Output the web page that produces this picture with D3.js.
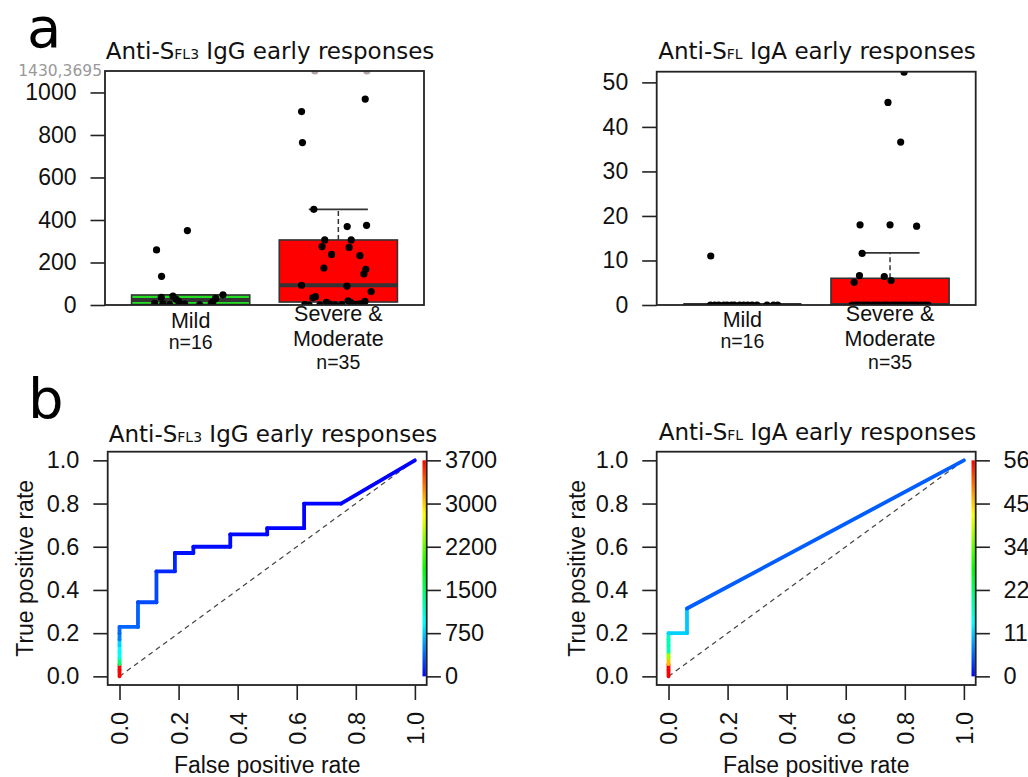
<!DOCTYPE html>
<html><head><meta charset="utf-8">
<script src="https://cdn.jsdelivr.net/npm/d3@7"></script>
<style>body{margin:0;background:#fff}svg{display:block}text{white-space:pre}</style>
</head><body>
<svg id="c" width="1028" height="777"></svg>
<script>
// ---------------- data ----------------
const groupLabels = [["Mild"], ["Severe &", "Moderate"]];
const groupN = ["n=16", "n=35"];

// Panel a, IgG
const igGTicks = [0, 200, 400, 600, 800, 1000];
const igGMax = 1101;
const igGOverLabel = "1430,3695";
const igGQ1 = [2, 14];
const igGMedian = [24, 93];
const igGQ3 = [47, 306];
const igGWhiskerLo = [0, 0];
const igGWhiskerHi = [48, 450];
const igGMildVals = [350, 259, 135, 48, 42, 36, 31, 27, 16, 15, 8, 8, 5, 4, 2, 1];
const igGMildX = [0.978, 0.769, 0.803, 1.219, 0.88, 0.801, 1.169, 0.903, 0.919, 1.151, 0.756, 1.14, 0.812, 0.96, 0.858, 1.061];
const igGSevVals = [3695, 1430, 969, 910, 764, 450, 375, 369, 306, 306, 275, 271, 238, 232, 174, 168, 146, 93, 89, 63, 39, 34, 20, 17, 13, 13, 6, 5, 4, 3, 2, 2, 1, 0, 0];
const igGSevX = [2.193, 1.841, 2.182, 1.751, 1.757, 1.834, 2.191, 2.06, 1.908, 2.087, 1.89, 2.073, 1.954, 2.146, 1.902, 2.186, 2.173, 1.751, 2.058, 2.222, 1.845, 1.827, 2.066, 2.18, 1.92, 2.083, 2.092, 2.146, 1.942, 2.123, 2.024, 1.773, 1.976, 1.802, 1.875];

// Panel a, IgA
const igATicks = [0, 10, 20, 30, 40, 50];
const igAMax = 52.4;
const igAQ1 = [0, 0];
const igAMedian = [0, 0];
const igAQ3 = [0, 6.0];
const igAWhiskerLo = [0, 0];
const igAWhiskerHi = [0, 11.7];
const igAMildVals = [11.0, 0, 0, 0, 0, 0, 0, 0, 0, 0, 0, 0, 0, 0, 0, 0];
const igAMildX = [0.786, 0.784, 0.813, 0.84, 0.874, 0.897, 0.926, 0.946, 0.982, 1.009, 1.036, 1.066, 1.099, 1.167, 1.211, 1.239];
const igASevVals = [52.3, 45.5, 36.6, 18.0, 18.0, 17.7, 11.6, 6.6, 6.4, 5.5, 5.1,
  0, 0, 0, 0, 0, 0, 0, 0, 0, 0, 0, 0, 0, 0, 0, 0, 0, 0, 0, 0, 0, 0, 0, 0];
const igASevX = [2.095, 1.986, 2.072, 1.797, 2.0, 2.18, 1.811, 1.793, 1.961, 2.007, 1.757,
  1.743, 1.770, 1.791, 1.818, 1.838, 1.858, 1.885, 1.905, 1.926, 1.953, 1.973, 1.986, 2.014, 2.034, 2.054, 2.074, 2.095, 2.115, 2.142, 2.162, 2.182, 2.209, 2.236, 2.257];

// Panel b, ROC IgG
const rocTicks = [0, 0.2, 0.4, 0.6, 0.8, 1.0];
const rocIgGFpr = [0, 0, 0, 0, 0, 0, 0, 0, 0, 0.0625, 0.0625, 0.125, 0.125, 0.1875, 0.1875, 0.25, 0.25, 0.375, 0.375, 0.5, 0.5, 0.625, 0.625, 0.75, 1];
const rocIgGTpr = [0, 0.029, 0.057, 0.086, 0.114, 0.143, 0.171, 0.2, 0.229, 0.229, 0.343, 0.343, 0.486, 0.486, 0.571, 0.571, 0.6, 0.6, 0.657, 0.657, 0.686, 0.686, 0.8, 0.8, 1];
const rocIgGCut = [3695, 3695, 1430, 969, 910, 764, 450, 375, 369, 350, 271, 259, 146, 135, 63, 48, 39, 36, 20, 15, 13, 5, 3, 1, 0];
const rocIgGCutMax = 3695;
const rocIgGCutLabels = ["0", "750", "1500", "2200", "3000", "3700"];

// Panel b, ROC IgA
const rocIgAFpr = [0, 0, 0, 0, 0, 0, 0, 0, 0.0625, 0.0625, 1];
const rocIgATpr = [0, 0.029, 0.057, 0.086, 0.114, 0.143, 0.171, 0.2, 0.2, 0.314, 1];
const rocIgACut = [56, 56, 45.5, 36.6, 18, 18, 17.7, 11.6, 11.0, 5.1, 0];
const rocIgACutMax = 56;
const rocIgACutLabels = ["0", "11", "22", "34", "45", "56"];

// ---------------- drawing ----------------
const svg = d3.select("#c");
svg.append("rect").attr("width", 1028).attr("height", 777).attr("fill", "#fff");
const defs = svg.append("defs");
const AX = "Liberation Sans, Arial, sans-serif";
const TT = "DejaVu Sans, sans-serif";
const INK = "#222";

function styleAxis(ax, fs) {
  ax.select(".domain").remove();
  ax.selectAll("line").attr("stroke", INK).attr("stroke-width", 1.6);
  ax.selectAll("text").attr("font-family", AX).attr("font-size", fs).attr("fill", "#111");
}

function title(cx, by, sub, post) {
  const t = svg.append("text").attr("x", cx).attr("y", by).attr("text-anchor", "middle")
    .attr("font-family", TT).attr("font-size", 23).attr("fill", "#111");
  t.append("tspan").text("Anti-S");
  t.append("tspan").attr("font-size", 14).text(sub);
  t.append("tspan").text(post);
}

function frame(L, R, T, B) {
  svg.append("rect").attr("x", L).attr("y", T).attr("width", R - L).attr("height", B - T)
    .attr("fill", "none").attr("stroke", INK).attr("stroke-width", 1.8);
}

function boxPanel(o) {
  const x = d3.scaleLinear().domain([0.42, 2.58]).range([o.L, o.R]);
  const y = d3.scaleLinear().domain([0, o.ymax]).range([o.B, o.T]);
  const id = "clip" + o.id;
  defs.append("clipPath").attr("id", id).append("rect")
    .attr("x", o.L).attr("y", o.T).attr("width", o.R - o.L).attr("height", o.B - o.T);

  const ax = svg.append("g").attr("transform", `translate(${o.L},0)`)
    .call(d3.axisLeft(y).tickValues(o.ticks).tickSize(14.5).tickPadding(14).tickFormat(d3.format("d")));
  styleAxis(ax, 23);

  const pg = svg.append("g").attr("clip-path", `url(#${id})`);
  const hw = 0.4, cw = 0.2;
  o.q1.forEach((_, i) => {
    const c = i + 1;
    pg.append("line").attr("x1", x(c)).attr("x2", x(c)).attr("y1", y(o.q3[i])).attr("y2", y(o.hi[i]))
      .attr("stroke", "#333").attr("stroke-width", 1.5).attr("stroke-dasharray", "5,3");
    pg.append("line").attr("x1", x(c - cw)).attr("x2", x(c + cw)).attr("y1", y(o.hi[i])).attr("y2", y(o.hi[i]))
      .attr("stroke", "#333").attr("stroke-width", 1.6);
    pg.append("line").attr("x1", x(c)).attr("x2", x(c)).attr("y1", y(o.q1[i])).attr("y2", y(o.lo[i]))
      .attr("stroke", "#333").attr("stroke-width", 1.5).attr("stroke-dasharray", "5,3");
    pg.append("rect").attr("x", x(c - hw)).attr("width", x(c + hw) - x(c - hw))
      .attr("y", y(o.q3[i])).attr("height", Math.max(0, y(o.q1[i]) - y(o.q3[i])))
      .attr("fill", o.fill[i]).attr("stroke", "#333").attr("stroke-width", 1.6);
    pg.append("line").attr("x1", x(c - hw)).attr("x2", x(c + hw)).attr("y1", y(o.med[i])).attr("y2", y(o.med[i]))
      .attr("stroke", "#333").attr("stroke-width", 4);
  });

  o.vals.forEach((vals, gi) => {
    pg.selectAll(null).data(vals).enter().append("circle")
      .attr("cx", (d, k) => x(o.xs[gi][k]))
      .attr("cy", d => y(Math.min(d, o.ymax)))
      .attr("r", 3.6)
      .attr("fill", d => d > o.ymax ? "#b0a4a4" : "#000");
  });

  frame(o.L, o.R, o.T, o.B);

  // category labels
  groupLabels.forEach((lines, i) => {
    lines.forEach((ln, j) => {
      svg.append("text").attr("x", x(i + 1)).attr("y", o.labY[i][j]).attr("text-anchor", "middle")
        .attr("font-family", AX).attr("font-size", 21.5).attr("fill", "#111").text(ln);
    });
    svg.append("text").attr("x", x(i + 1)).attr("y", o.nY[i]).attr("text-anchor", "middle")
      .attr("font-family", AX).attr("font-size", 19.5).attr("fill", "#111").text(groupN[i]);
  });
  return { x, y };
}

function rocPanel(o) {
  const x = d3.scaleLinear().domain([-0.04, 1.04]).range([o.L, o.R]);
  const y = d3.scaleLinear().domain([-0.04, 1.04]).range([o.B, o.T]);

  const ay = svg.append("g").attr("transform", `translate(${o.L},0)`)
    .call(d3.axisLeft(y).tickValues(rocTicks).tickSize(14.4).tickPadding(14).tickFormat(d3.format(".1f")));
  styleAxis(ay, 23.5);

  const axg = svg.append("g").attr("transform", `translate(0,${o.B})`)
    .call(d3.axisBottom(x).tickValues(rocTicks).tickSize(15).tickFormat(d3.format(".1f")));
  styleAxis(axg, 23.5);
  axg.selectAll("text").attr("transform", "rotate(-90)").attr("x", -27).attr("y", 0)
    .attr("dy", "0.36em").attr("text-anchor", "end");

  // diagonal
  svg.append("line").attr("x1", x(0)).attr("y1", y(0)).attr("x2", x(1)).attr("y2", y(1))
    .attr("stroke", "#444").attr("stroke-width", 1.2).attr("stroke-dasharray", "5,4");

  // colored curve
  const hue = c => (1 - c / o.cutMax) * 240;
  const segs = d3.range(o.fpr.length - 1);
  svg.append("g").selectAll("line").data(segs).enter().append("line")
    .attr("x1", i => x(o.fpr[i])).attr("y1", i => y(o.tpr[i]))
    .attr("x2", i => x(o.fpr[i + 1])).attr("y2", i => y(o.tpr[i + 1]))
    .attr("stroke", i => d3.hsl(hue(o.cut[i]), 1, 0.5).formatHex())
    .attr("stroke-width", 3.8).attr("stroke-linecap", "round");

  // color key
  const gid = "grad" + o.id;
  const grad = defs.append("linearGradient").attr("id", gid)
    .attr("x1", 0).attr("y1", 1).attr("x2", 0).attr("y2", 0);
  d3.range(0, 1.0001, 0.05).forEach(t => {
    grad.append("stop").attr("offset", t).attr("stop-color", d3.hsl((1 - t) * 240, 1, 0.5).formatHex());
  });
  svg.append("rect").attr("x", o.R - 4.2).attr("width", 3.4).attr("y", y(1)).attr("height", y(0) - y(1))
    .attr("fill", `url(#${gid})`);

  const cs = d3.scaleLinear().domain([0, o.cutMax]).range([y(0), y(1)]);
  const ar = svg.append("g").attr("transform", `translate(${o.R},0)`)
    .call(d3.axisRight(cs).tickValues(d3.range(6).map(i => o.cutMax * i / 5)).tickSize(14.2)
      .tickPadding(o.rpad).tickFormat((d, i) => o.cutLabels[i]));
  styleAxis(ar, 23.5);

  frame(o.L, o.R, o.T, o.B);

  svg.append("text").attr("transform", `translate(${o.ylabX},${(y(0) + y(1)) / 2}) rotate(-90)`)
    .attr("text-anchor", "middle").attr("font-family", AX).attr("font-size", 23).attr("fill", "#111")
    .text("True positive rate");
  svg.append("text").attr("x", (x(0) + x(1)) / 2).attr("y", 773).attr("text-anchor", "middle")
    .attr("font-family", AX).attr("font-size", 23).attr("fill", "#111").text("False positive rate");
}

// panel letters
svg.append("text").attr("x", 27).attr("y", 47).attr("font-family", TT).attr("font-size", 56).attr("fill", "#000").text("a");
svg.append("text").attr("x", 28).attr("y", 418).attr("font-family", TT).attr("font-size", 56).attr("fill", "#000").text("b");

// a: IgG
title(270, 59, "FL3", " IgG early responses");
boxPanel({
  id: "aG", L: 105, R: 424, T: 71, B: 305, ymax: igGMax, ticks: igGTicks,
  q1: igGQ1, med: igGMedian, q3: igGQ3, lo: igGWhiskerLo, hi: igGWhiskerHi,
  vals: [igGMildVals, igGSevVals], xs: [igGMildX, igGSevX],
  fill: ["#22dd22", "#ff0000"],
  labY: [[328], [321, 345.5]], nY: [349, 368.5]
});
svg.append("text").attr("x", 102).attr("y", 76).attr("text-anchor", "end")
  .attr("font-family", TT).attr("font-size", 15.5).attr("fill", "#999").text(igGOverLabel);

// a: IgA
title(817, 58.5, "FL", " IgA early responses");
boxPanel({
  id: "aA", L: 656.7, R: 975.7, T: 71.7, B: 305, ymax: igAMax, ticks: igATicks,
  q1: igAQ1, med: igAMedian, q3: igAQ3, lo: igAWhiskerLo, hi: igAWhiskerHi,
  vals: [igAMildVals, igASevVals], xs: [igAMildX, igASevX],
  fill: ["#22dd22", "#ff0000"],
  labY: [[326.5], [321, 345.5]], nY: [348, 368.5]
});

// b: ROC IgG
title(273, 441.5, "FL3", " IgG early responses");
rocPanel({
  id: "bG", L: 107.7, R: 426.7, T: 451.7, B: 685,
  fpr: rocIgGFpr, tpr: rocIgGTpr, cut: rocIgGCut, cutMax: rocIgGCutMax, cutLabels: rocIgGCutLabels,
  rpad: 4, ylabX: 33
});

// b: ROC IgA
title(817.5, 439.5, "FL", " IgA early responses");
rocPanel({
  id: "bA", L: 656.7, R: 975.7, T: 451.7, B: 685,
  fpr: rocIgAFpr, tpr: rocIgATpr, cut: rocIgACut, cutMax: rocIgACutMax, cutLabels: rocIgACutLabels,
  rpad: 13.5, ylabX: 585
});
</script>
</body></html>
